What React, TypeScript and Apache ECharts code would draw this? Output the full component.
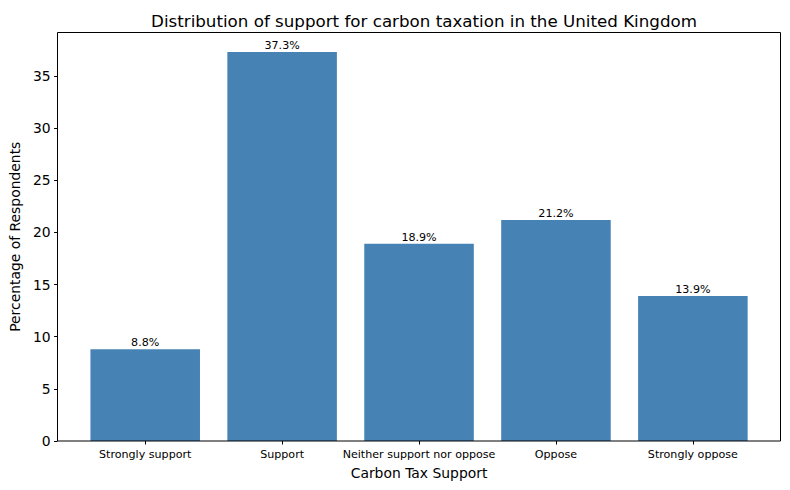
import React, { useEffect, useRef } from "react";
import * as echarts from "echarts";

const categories = [
  "Strongly support",
  "Support",
  "Neither support nor oppose",
  "Oppose",
  "Strongly oppose",
];
const percentages = [8.8, 37.3, 18.9, 21.2, 13.9];
const yTicks = [0, 5, 10, 15, 20, 25, 30, 35];

const FONT = "DejaVu Sans";

export default function App() {
  const ref = useRef<HTMLDivElement>(null);
  useEffect(() => {
    if (!ref.current) return;
    const chart = echarts.init(ref.current, null, { renderer: "svg" });
    const frameL = 57.5;
    const frameR = 780.5;
    const frameT = 32.5;
    const frameB = 441;
    const unit = (frameR - frameL) / 5.28;
    const pad = 0.14 * unit;
    chart.setOption({
      animation: false,
      backgroundColor: "#ffffff",
      title: {
        text: "Distribution of support for carbon taxation in the United Kingdom",
        left: (frameL + frameR) / 2,
        top: 7,
        textAlign: "center",
        textStyle: { fontFamily: FONT, fontSize: 16.7, fontWeight: "normal", color: "#000" },
      },
      grid: {
        left: frameL + pad,
        right: 790 - frameR + pad,
        top: frameT,
        bottom: 490 - frameB,
        containLabel: false,
      },
      xAxis: {
        type: "category",
        data: categories,
        name: "Carbon Tax Support",
        nameLocation: "middle",
        nameGap: 25,
        nameTextStyle: { fontFamily: FONT, fontSize: 13.9, color: "#000" },
        axisLine: { show: false },
        axisTick: { show: true, alignWithLabel: true, length: 3.5, lineStyle: { color: "#000" } },
        axisLabel: { fontFamily: FONT, fontSize: 11.1, color: "#000", margin: 8, interval: 0 },
        splitLine: { show: false },
      },
      yAxis: {
        type: "value",
        min: 0,
        max: 39.165,
        interval: 5,
        offset: pad,
        name: "Percentage of Respondents",
        nameLocation: "middle",
        nameGap: 34,
        nameTextStyle: { fontFamily: FONT, fontSize: 13.9, color: "#000" },
        axisLine: { show: false },
        axisTick: { show: true, length: 3.5, lineStyle: { color: "#000" } },
        axisLabel: {
          fontFamily: FONT,
          fontSize: 13.9,
          color: "#000",
          margin: 7,
          showMaxLabel: false,
          formatter: (v: number) => (yTicks.includes(v) ? String(v) : ""),
        },
        splitLine: { show: false },
      },
      series: [
        {
          type: "bar",
          data: percentages,
          barWidth: "80%",
          itemStyle: { color: "#4682B4" },
          label: {
            show: true,
            position: "top",
            distance: 1,
            fontFamily: FONT,
            fontSize: 11.1,
            color: "#000",
            formatter: (p: any) => `${p.value}%`,
          },
        },
      ],
      graphic: [
        {
          type: "rect",
          z: 100,
          shape: { x: frameL, y: frameT, width: frameR - frameL, height: frameB - frameT },
          style: { fill: "none", stroke: "#000", lineWidth: 1 },
        },
      ],
    });
    return () => chart.dispose();
  }, []);
  return (
    <div
      ref={ref}
      style={{ position: "fixed", left: 0, top: 0, width: 790, height: 490 }}
    />
  );
}
